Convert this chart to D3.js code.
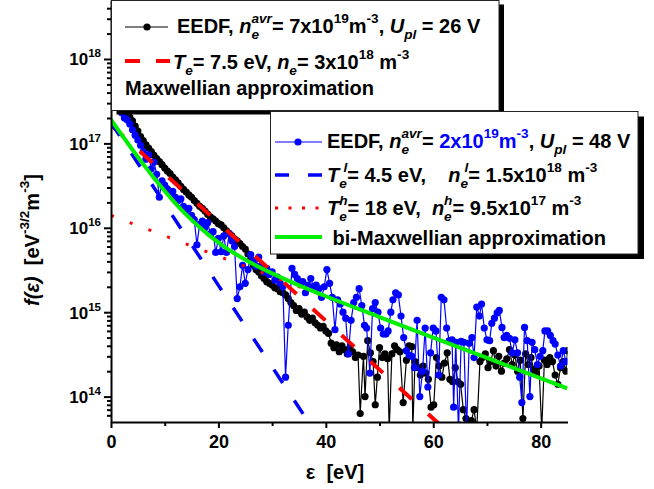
<!DOCTYPE html>
<html>
<head>
<meta charset="utf-8">
<script src="https://cdn.jsdelivr.net/npm/d3@7"></script>
<style>
  body { margin: 0; background: #fff; }
  svg { display: block; font-family: "Liberation Sans", Arial, sans-serif; font-weight: bold; }
</style>
</head>
<body>
<script>
// EEDF at U_pl = 26 V (black)
const blackE = [
  1.0, 1.5, 2.0, 2.5, 3.0, 3.5, 4.0, 4.5, 5.0, 5.5,
  6.0, 6.5, 7.0, 7.5, 8.0, 8.5, 9.0, 9.5, 10.0, 10.5,
  11.0, 11.5, 12.0, 12.5, 13.0, 13.5, 14.0, 14.5, 15.0, 15.5,
  16.0, 16.5, 17.0, 17.5, 18.0, 18.5, 19.0, 19.5, 20.0, 20.5,
  21.0, 21.5, 22.0, 22.5, 23.0, 23.5, 24.0, 24.5, 25.0, 25.5,
  26.0, 26.5, 27.0, 27.5, 28.0, 28.5, 29.0, 29.5, 30.0, 30.5,
  31.0, 31.5, 32.0, 32.5, 33.0, 33.5, 34.0, 34.5, 35.0, 35.5,
  36.0, 36.5, 37.0, 37.5, 38.0, 38.5, 39.0, 39.5, 40.0, 40.5,
  41.0, 41.5, 42.0, 42.5, 43.0, 43.5, 44.0, 44.5, 45.0, 45.5,
  46.0, 46.4, 47.0, 47.3, 47.8, 48.3, 48.8, 49.2, 49.6, 50.0,
  50.5, 51.0, 51.5, 51.8, 52.3, 52.8, 53.3, 53.8, 54.4, 55.0,
  55.5, 56.0, 56.2, 56.6, 57.1, 57.6, 58.1, 58.6, 59.1, 59.6,
  60.1, 60.6, 61.1, 61.6, 62.1, 62.6, 63.1, 63.6, 64.1, 64.6,
  65.1, 65.6, 66.1, 66.6, 67.1, 67.6, 68.1, 68.7, 69.2, 69.7,
  70.2, 70.7, 71.2, 71.7, 72.2, 72.7, 73.2, 73.7, 74.2, 74.7,
  75.2, 75.7, 76.2, 76.7, 77.2, 77.7, 78.2, 78.7, 79.2, 79.7,
  80.2, 80.7, 81.2, 81.7, 82.2, 82.7, 83.2, 83.7, 84.2, 84.7,
  85.0
];
const blackF = [
  6.0e17, 4.6e17, 3.6e17, 2.8e17, 2.3e17, 2.05e17, 1.85e17, 1.6e17, 1.4e17, 1.2e17,
  1.08e17, 9.6e16, 8.8e16, 8.0e16, 7.2e16, 6.6e16, 6.1e16, 5.6e16, 5.1e16, 4.7e16,
  4.4e16, 4.0e16, 3.7e16, 3.4e16, 3.1e16, 2.85e16, 2.65e16, 2.45e16, 2.3e16, 2.1e16,
  1.95e16, 1.8e16, 1.7e16, 1.58e16, 1.45e16, 1.35e16, 1.28e16, 1.2e16, 1.12e16, 1.08e16,
  1.0e16, 9.2e15, 8.6e15, 8.0e15, 7.4e15, 7.0e15, 6.5e15, 6.0e15, 5.6e15, 4.9e15,
  4.2e15, 3.6e15, 3.2e15, 3.0e15, 2.7e15, 2.5e15, 2.3e15, 2.2e15, 2.1e15, 1.95e15,
  1.9e15, 1.75e15, 1.7e15, 1.6e15, 1.45e15, 1.3e15, 1.2e15, 1.05e15, 1.1e15, 9.5e14,
  1.0e15, 8.8e14, 8.0e14, 8.5e14, 7.5e14, 7.0e14, 6.5e14, 6.8e14, 6.0e14, 5.6e14,
  4.3e14, 3.8e14, 4.1e14, 3.4e14, 4.0e14, 3.6e14, 3.2e14, 3.8e14, 3.4e14, 2.9e14,
  3.1e14, 6.3e13, 3.0e14, 1.0e14, 4.6e14, 3.3e14, 2.6e14, 8.0e13, 1.7e14, 3.8e14,
  2.9e14, 3.2e14, 2.8e14, 4.0e13, 3.2e14, 4.0e14, 3.6e14, 3.4e14, 8.5e13, 2.7e14,
  4.0e14, 3.9e14, 4.0e13, 2.6e14, 2.2e14, 1.8e14, 2.3e14, 1.9e14, 1.6e14, 7.5e13,
  8.0e13, 2.9e14, 2.3e14, 1.7e14, 2.5e14, 3.3e14, 1.6e14, 1.5e14, 2.2e14, 1.5e14,
  1.4e14, 7.0e13, 5.5e13, 5.0e13, 5.2e13, 7.0e13, 4.0e13, 2.6e14, 2.9e14, 3.2e14,
  2.2e14, 2.6e14, 3.5e14, 2.3e14, 3.0e14, 2.0e14, 2.5e14, 2.8e14, 3.6e14, 2.4e14,
  3.1e14, 2.0e14, 2.7e14, 5.5e13, 3.2e14, 2.4e14, 2.9e14, 2.1e14, 1.9e14, 2.3e14,
  4.0e13, 2.7e14, 2.4e14, 2.9e14, 2.6e14, 1.8e14, 1.4e14, 2.2e14, 2.6e14, 2.0e14,
  3.5e14
];

// EEDF at U_pl = 48 V (blue)
const blueE = [
  1.0, 1.5, 2.0, 2.5, 3.0, 3.5, 4.0, 4.5, 5.0, 5.5,
  6.0, 6.5, 7.0, 7.5, 8.0, 8.5, 9.0, 9.5, 10.0, 10.5,
  11.0, 11.5, 12.0, 12.5, 13.0, 13.5, 14.0, 14.5, 15.0, 15.5,
  16.0, 16.5, 17.0, 17.5, 18.0, 18.5, 19.0, 19.5, 20.0, 20.5,
  21.0, 21.5, 22.0, 22.5, 23.0, 23.5, 24.0, 24.5, 25.0, 25.5,
  26.0, 26.5, 27.0, 27.5, 28.0, 28.5, 29.0, 29.5, 30.0, 30.5,
  31.0, 31.5, 32.0, 32.5, 33.0, 33.7, 34.2, 34.7, 35.2, 35.7,
  36.2, 36.7, 37.2, 37.7, 38.2, 38.7, 39.2, 39.7, 40.2, 40.7,
  41.2, 41.7, 42.2, 42.7, 43.2, 43.7, 44.2, 44.7, 45.2, 45.7,
  46.2, 46.7, 47.2, 47.6, 48.2, 48.7, 49.2, 49.7, 50.2, 50.7,
  51.2, 51.6, 52.1, 52.5, 53.0, 53.5, 54.0, 54.5, 55.0, 55.5,
  56.0, 56.5, 57.0, 57.5, 58.0, 58.5, 59.0, 59.5, 60.0, 60.5,
  61.0, 61.5, 62.0, 62.5, 63.0, 63.5, 63.8, 64.2, 64.7, 65.2,
  65.7, 66.2, 66.7, 67.2, 67.6, 68.1, 68.6, 69.0, 69.5, 70.0,
  70.5, 70.9, 71.4, 71.9, 72.3, 72.8, 73.2, 73.7, 74.2, 74.7,
  75.2, 75.7, 76.1, 76.5, 77.0, 77.5, 78.0, 78.4, 78.9, 79.4,
  79.9, 80.4, 80.8, 81.3, 81.8, 82.3, 82.7, 83.2, 83.7, 84.2,
  84.7
];
const blueF = [
  5.5e17, 4.0e17, 2.3e17, 2.0e17, 1.9e17, 1.7e17, 1.45e17, 1.25e17, 1.1e17, 9.5e16,
  8.0e16, 6.5e16, 7.3e16, 5.0e16, 6.0e16, 4.3e16, 2.3e16, 3.6e16, 3.2e16, 2.9e16,
  2.6e16, 2.7e16, 2.3e16, 2.1e16, 2.2e16, 1.8e16, 1.6e16, 1.7e16, 1.4e16, 1.25e16,
  6.3e15, 1.1e16, 1.2e16, 1.0e16, 1.15e16, 8.5e15, 9.0e15, 5.1e15, 7.5e15, 5.2e15,
  8.0e15, 5.1e15, 8.5e15, 7.0e15, 6.0e15, 1.45e15, 2.0e15, 3.6e15, 2.2e15, 3.2e15,
  4.8e15, 4.0e15, 3.5e15, 4.5e15, 3.6e15, 3.0e15, 3.3e15, 2.8e15, 3.0e15, 2.4e15,
  2.6e15, 2.2e15, 2.0e15, 1.7e14, 7.0e14, 3.3e15, 2.8e15, 2.5e15, 2.2e15, 2.3e15,
  1.7e15, 2.1e15, 2.5e15, 2.0e15, 2.1e15, 1.9e15, 1.5e15, 2.0e15, 3.2e15, 2.2e15,
  1.5e15, 6.2e14, 1.4e15, 1.25e15, 1.0e15, 8.5e14, 3.2e14, 8.0e14, 1.3e15, 1.5e15,
  1.9e15, 1.2e15, 7.0e14, 6.5e14, 1.9e14, 1.1e15, 1.3e15, 1.0e15, 6.5e14, 5.5e14,
  5.5e14, 6.0e14, 1.0e15, 1.4e15, 1.7e15, 1.6e15, 9.0e14, 5.0e14, 3.5e14, 3.1e14,
  3.0e14, 2.2e14, 8.0e14, 1.0e14, 2.0e14, 6.5e14, 1.3e14, 3.3e14, 6.5e14, 6.0e14,
  1.8e14, 1.5e15, 1.4e15, 6.5e14, 4.6e14, 4.7e14, 7.5e13, 4.4e14, 4.0e13, 4.5e14,
  4.4e14, 4.0e13, 4.3e14, 5.0e14, 2.9e14, 1.15e15, 9.0e14, 1.25e15, 6.5e14, 4.7e14,
  4.6e14, 7.4e14, 8.5e14, 9.8e14, 1.05e15, 6.6e14, 5.0e14, 5.3e14, 4.9e14, 3.3e14,
  4.7e14, 3.3e14, 1.7e14, 8.5e13, 6.6e14, 4.6e14, 1.0e14, 4.4e14, 3.6e14, 2.4e14,
  3.0e14, 3.5e14, 6.0e14, 6.0e14, 5.3e14, 4.6e14, 4.2e14, 3.1e14, 2.3e14, 3.5e14,
  2.6e14
];

// Maxwellian fit, Te = 7.5 eV (red dashed)
const maxE = [0, 20, 40, 62];
const maxF = [1.65e17, 1.15e16, 7.9e14, 4.2e13];
// low-energy group, Te = 4.5 eV (blue dashed)
const lowE = [0, 20, 38];
const lowF = [1.77e17, 2.08e15, 3.8e13];
// high-energy group, Te = 18 eV (red dotted)
const highE = [0, 40, 85];
const highF = [1.40e16, 1.52e15, 1.25e14];
// bi-Maxwellian sum (green)
const biE = [0, 2, 4, 6, 8, 10, 12, 15, 18, 21, 25, 30, 35, 40, 50, 60, 70, 85];
const biF = [1.91e17, 1.26e17, 8.41e16, 5.68e16, 3.90e16, 2.73e16, 1.95e16, 1.24e16, 8.41e15,
             6.04e15, 4.18e15, 2.88e15, 2.08e15, 1.545e15, 8.76e14, 5.0e14, 2.87e14, 1.25e14];

const xMajor = [0, 20, 40, 60, 80];
const xMinor = [10, 30, 50, 70];
const yMajorExp = [14, 15, 16, 17, 18];

const W = 654, H = 489;
const L = 111, R = 567.5, B = 422, T = 0;
const FS = 20;   // legend / title font size

const svg = d3.select("body").append("svg")
  .attr("width", W).attr("height", H);

const x = d3.scaleLinear().domain([0, 85]).range([L, R]);
const y = d3.scaleLog().domain([5e13, 5e18]).range([B, T]);

svg.append("clipPath").attr("id", "clip")
  .append("rect").attr("x", L).attr("y", T).attr("width", R - L).attr("height", B - T);

const plot = svg.append("g").attr("clip-path", "url(#clip)");
const line = d3.line().x(d => x(d[0])).y(d => y(d[1]));

// measured curves
function series(E, F, color) {
  const pts = d3.zip(E, F);
  plot.append("path").datum(pts)
    .attr("d", line).attr("fill", "none")
    .attr("stroke", color).attr("stroke-width", 1.2);
  plot.append("g").selectAll("circle").data(pts).join("circle")
    .attr("cx", d => x(d[0])).attr("cy", d => y(d[1]))
    .attr("r", 3.6).attr("fill", color);
}
series(blackE, blackF, "#000");
series(blueE, blueF, "#0000ff");

// fits
plot.append("path").datum(d3.zip(maxE, maxF)).attr("d", line)
  .attr("fill", "none").attr("stroke", "#ff0000").attr("stroke-width", 4)
  .attr("stroke-dasharray", "17,22");
plot.append("path").datum(d3.zip(lowE, lowF)).attr("d", line)
  .attr("fill", "none").attr("stroke", "#0000ff").attr("stroke-width", 3.5)
  .attr("stroke-dasharray", "16,21");
plot.append("path").datum(d3.zip(highE, highF)).attr("d", line)
  .attr("fill", "none").attr("stroke", "#ff0000").attr("stroke-width", 3)
  .attr("stroke-dasharray", "3,17");
plot.append("path").datum(d3.zip(biE, biF))
  .attr("d", line.curve(d3.curveMonotoneX))
  .attr("fill", "none").attr("stroke", "#00ee00").attr("stroke-width", 4);
line.curve(d3.curveLinear);

// axes
const xAxis = svg.append("g").attr("transform", `translate(0,${B})`)
  .call(d3.axisBottom(x).tickValues(xMajor).tickSize(6).tickSizeOuter(0).tickPadding(7));
svg.append("g").attr("transform", `translate(0,${B})`)
  .call(d3.axisBottom(x).tickValues(xMinor).tickSize(4).tickSizeOuter(0).tickFormat(""))
  .select(".domain").remove();
xAxis.selectAll("text").attr("font-size", 18).attr("font-family", null).attr("fill", "#000");

const yMinor = [];
for (let e = 13; e <= 18; e++) for (let m = 2; m <= 9; m++) {
  const v = m * Math.pow(10, e);
  if (v > 5e13 && v < 5e18) yMinor.push(v);
}
svg.append("g").attr("transform", `translate(${L},0)`)
  .call(d3.axisLeft(y).tickValues(yMajorExp.map(e => Math.pow(10, e))).tickSize(7).tickSizeOuter(0).tickFormat(""));
svg.append("g").attr("transform", `translate(${L},0)`)
  .call(d3.axisLeft(y).tickValues(yMinor).tickSize(4).tickSizeOuter(0).tickFormat(""))
  .select(".domain").remove();

svg.selectAll(".domain, .tick line").attr("stroke", "#000").attr("stroke-width", 2);

// rich text helper: parts are [text, flags, color]
// flags: i=italic, b=sub, p=sup, s=stack over previous, h=half stack
function rich(parent, px, py, parts, size, anchor) {
  const t = parent.append("text").attr("x", px).attr("y", py)
    .attr("font-size", size).attr("text-anchor", anchor || "start")
    .style("white-space", "pre");
  let cur = 0, prev = null;
  parts.forEach(p => {
    const f = p[1] || "";
    const off = f.includes("p") ? -0.48 * size : f.includes("b") ? 0.32 * size : 0;
    const s = t.append("tspan").attr("dy", off - cur).text(p[0]);
    cur = off;
    if (f.includes("p") || f.includes("b")) s.attr("font-size", size * 0.68);
    if (f.includes("i")) s.attr("font-style", "italic");
    if (p[2]) s.attr("fill", p[2]);
    if (prev && (f.includes("s") || f.includes("h"))) {
      const k = f.includes("h") ? 0.45 : 1;
      s.attr("dx", -k * prev.node().getComputedTextLength());
    }
    prev = s;
  });
  return t;
}

// y tick labels
yMajorExp.forEach(e => {
  rich(svg, 101, y(Math.pow(10, e)) + 6.5, [["10"], [String(e), "p"]], 17, "end");
});

// axis titles
rich(svg, 335, 479, [["\u03b5  [eV]"]], FS, "middle");
rich(svg.append("g").attr("transform", "translate(39,240) rotate(-90)"), 0, 0,
  [["f(\u03b5)", "i"], ["  [eV"], ["-3/2", "p"], ["m", ""], ["-3", "p"], ["]"]], FS, "middle");

// legend boxes
function box(x0, y0, w, h, dx, dy) {
  const g = svg.append("g");
  g.append("rect").attr("x", x0 + dx).attr("y", y0 + dy).attr("width", w).attr("height", h).attr("fill", "#000");
  g.append("rect").attr("x", x0).attr("y", y0).attr("width", w).attr("height", h)
    .attr("fill", "#fff").attr("stroke", "#222").attr("stroke-width", 1);
  return g;
}

const leg1 = box(111.5, 0.5, 387.5, 110, 5, 4);
leg1.append("line").attr("x1", 125).attr("x2", 168).attr("y1", 27).attr("y2", 27)
  .attr("stroke", "#000").attr("stroke-width", 1.2);
leg1.append("circle").attr("cx", 147).attr("cy", 27).attr("r", 3.6).attr("fill", "#000");
rich(leg1, 177, 33, [["EEDF, "], ["n", "i"], ["e", "ib"], ["avr", "ips"], ["= 7x10"], ["19", "p"],
  ["m"], ["-3", "p"], [", "], ["U", "i"], ["pl", "ib"], [" = 26 V"]], FS);
leg1.append("line").attr("x1", 125).attr("x2", 170).attr("y1", 61).attr("y2", 61)
  .attr("stroke", "#ff0000").attr("stroke-width", 4).attr("stroke-dasharray", "15,16");
rich(leg1, 173, 69, [["T", "i"], ["e", "ib"], ["= 7.5 eV, "], ["n", "i"], ["e", "ib"], ["= 3x10"],
  ["18", "p"], [" m"], ["-3", "p"]], FS);
rich(leg1, 125, 95, [["Maxwellian approximation"]], FS);

const leg2 = box(270.5, 111.5, 367.5, 142.5, 6, 5);
leg2.append("line").attr("x1", 275).attr("x2", 322).attr("y1", 142).attr("y2", 142)
  .attr("stroke", "#0000ff").attr("stroke-width", 1.2);
leg2.append("circle").attr("cx", 298).attr("cy", 142).attr("r", 3.6).attr("fill", "#0000ff");
rich(leg2, 327, 148, [["EEDF, "], ["n", "i"], ["e", "ib"], ["avr", "ips"], ["= "], ["2x10", "", "#0000ff"],
  ["19", "p", "#0000ff"], ["m", "", "#0000ff"], ["-3", "p", "#0000ff"], [", "], ["U", "i"], ["pl", "ib"], [" = 48 V"]], FS);
leg2.append("line").attr("x1", 275).attr("x2", 322).attr("y1", 175).attr("y2", 175)
  .attr("stroke", "#0000ff").attr("stroke-width", 3.5).attr("stroke-dasharray", "14,19");
rich(leg2, 327, 182, [["T", "i"], ["e", "ib"], ["l", "iph"], ["= 4.5 eV,    "], ["n", "i"], ["e", "ib"], ["l", "iph"],
  ["= 1.5x10"], ["18", "p"], [" m"], ["-3", "p"]], FS);
leg2.append("line").attr("x1", 275).attr("x2", 322).attr("y1", 208).attr("y2", 208)
  .attr("stroke", "#ff0000").attr("stroke-width", 3).attr("stroke-dasharray", "3,10.5");
rich(leg2, 327, 215, [["T", "i"], ["e", "ib"], ["h", "ips"], ["= 18 eV,  "], ["n", "i"], ["e", "ib"], ["h", "ips"],
  ["= 9.5x10"], ["17", "p"], [" m"], ["-3", "p"]], FS);
leg2.append("line").attr("x1", 275).attr("x2", 322).attr("y1", 237).attr("y2", 237)
  .attr("stroke", "#00ee00").attr("stroke-width", 4);
rich(leg2, 327, 245, [[" bi-Maxwellian approximation"]], FS);
</script>
</body>
</html>
